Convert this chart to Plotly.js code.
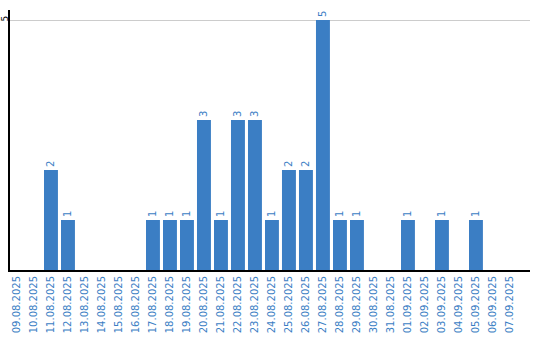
<!DOCTYPE html>
<html><head><meta charset="utf-8">
<script src="https://cdn.plot.ly/plotly-3.0.1.min.js"></script>
<style>html,body{margin:0;padding:0;background:#fff}#chart{width:540px;height:340px}</style>
</head><body><div id="chart"></div>
<script>
const dates = ["09.08.2025","10.08.2025","11.08.2025","12.08.2025","13.08.2025","14.08.2025","15.08.2025","16.08.2025","17.08.2025","18.08.2025","19.08.2025","20.08.2025","21.08.2025","22.08.2025","23.08.2025","24.08.2025","25.08.2025","26.08.2025","27.08.2025","28.08.2025","29.08.2025","30.08.2025","31.08.2025","01.09.2025","02.09.2025","03.09.2025","04.09.2025","05.09.2025","06.09.2025","07.09.2025"];
const counts = [0,0,2,1,0,0,0,0,1,1,1,3,1,3,3,1,2,2,5,1,1,0,0,1,0,1,0,1,0,0];
const yTicks = [5];

const idx = dates.map((d,i)=>i);
const labels = counts.map(v => v > 0 ? String(v) : '');
const blue = '#3b7ec4';

Plotly.newPlot('chart', [{
  type: 'bar',
  x: idx,
  y: counts,
  text: labels,
  textposition: 'outside',
  textangle: -90,
  cliponaxis: false,
  textfont: {family: 'DejaVu Sans', size: 10, color: blue},
  marker: {color: blue},
  width: 0.82,
  hoverinfo: 'none'
}], {
  width: 540, height: 340,
  margin: {l: 10, r: 10, t: 10, b: 70},
  paper_bgcolor: '#fff', plot_bgcolor: '#fff',
  showlegend: false,
  xaxis: {
    range: [-0.41, 30.18],
    tickvals: idx, ticktext: dates,
    tickangle: -90,
    tickfont: {family: 'DejaVu Sans', size: 10, color: blue},
    showgrid: false, zeroline: false,
    showline: true, linecolor: '#000', linewidth: 2,
    ticks: ''
  },
  yaxis: {
    range: [0, 5.2],
    tickvals: yTicks,
    tickangle: -90,
    ticklabelstandoff: -4,
    tickfont: {family: 'DejaVu Sans', size: 9, color: '#000'},
    showgrid: true, gridcolor: '#cccccc', gridwidth: 1,
    zeroline: false,
    showline: true, linecolor: '#000', linewidth: 2,
    ticks: ''
  }
}, {staticPlot: true});
</script></body></html>
